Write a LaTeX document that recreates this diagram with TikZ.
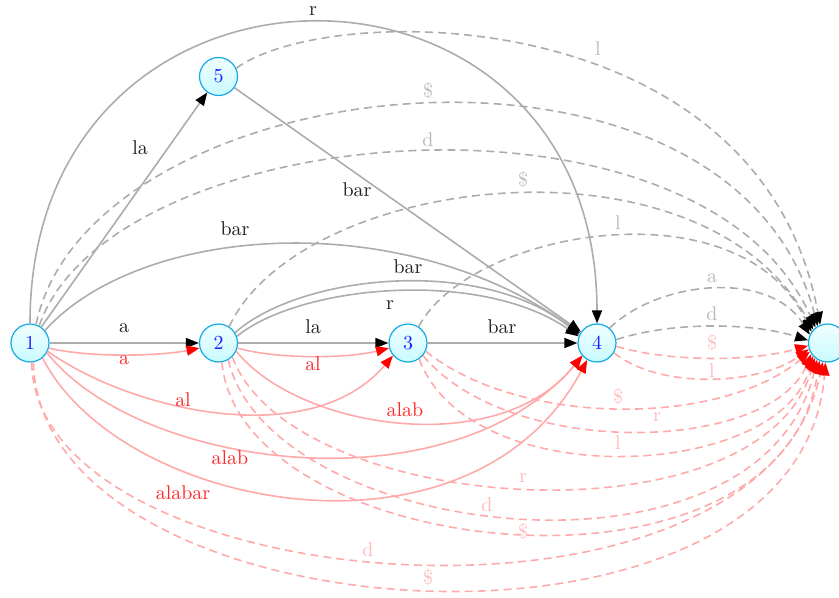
\documentclass[tikz,border=0pt]{standalone}
\usetikzlibrary{arrows.meta}
\newcommand\txtb[1]{\scalebox{2}{#1}}
\definecolor{stborder}{RGB}{20,170,230}
\definecolor{sttop}{RGB}{240,255,255}
\definecolor{stbot}{RGB}{200,250,255}
\definecolor{stlabel}{RGB}{30,30,255}
\definecolor{gline}{RGB}{172,172,172}
\definecolor{rline}{RGB}{255,170,170}
\definecolor{labk}{RGB}{30,30,30}
\definecolor{labg}{RGB}{185,185,185}
\definecolor{labr}{RGB}{255,40,40}
\definecolor{labp}{RGB}{255,185,185}
\tikzset{
  st/.style={circle, draw=stborder, line width=1.2bp, minimum size=38bp, inner sep=0pt,
    top color=sttop, bottom color=stbot, text=stlabel},
  ge/.style={draw=gline, line width=1.6bp, -{Triangle[length=13bp,width=10bp,color=black]}},
  gd/.style={ge, dash pattern=on 8bp off 5bp},
  re/.style={draw=rline, line width=1.6bp, -{Triangle[length=13bp,width=10bp,color=red]}},
  rd/.style={re, dash pattern=on 8bp off 5bp},
  lab/.style={inner sep=0pt},
  lk/.style={lab, text=labk},
  lg/.style={lab, text=labg},
  lr/.style={lab, text=labr},
  lp/.style={lab, text=labp}
}
\begin{document}
\begin{tikzpicture}[x=1bp,y=-1bp]
\useasboundingbox (0,0) rectangle (839,598);
\clip (0,0) rectangle (839,598);
% states
\node[st] (n1) at (30,343) {\txtb{1}};
\node[st] (n2) at (218.5,343) {\txtb{2}};
\node[st] (n3) at (408,343) {\txtb{3}};
\node[st] (n4) at (597,343) {\txtb{4}};
\node[st] (n5) at (218.5,76.5) {\txtb{5}};
\node[st] (n6) at (827.5,343) {};
% gray solid edges
\draw[ge] (n1.90) .. controls (30,-78) and (597,-78) .. (n4.90);
\draw[ge] (n1.40) .. controls (140,225) and (400,205) .. (n4.150);
\draw[ge] (n2.32) .. controls (300,275) and (480,255) .. (n4.155);
\draw[ge] (n2.20) .. controls (300,285) and (480,268) .. (n4.160);
\draw[ge] (n5) -- (n4);
\draw[ge] (n1) -- (n5);
\draw[ge] (n1) -- (n2);
\draw[ge] (n2) -- (n3);
\draw[ge] (n3) -- (n4);
% gray dashed edges
\draw[gd] (n5.25) .. controls (330,0) and (760,0) .. (n6.112);
\draw[gd] (n1.72) .. controls (90,68) and (730,-5) .. (n6.120);
\draw[gd] (n1.62) .. controls (110,120) and (700,68) .. (n6.128);
\draw[gd] (n2.57) .. controls (300,175) and (700,125) .. (n6.137);
\draw[gd] (n3.57) .. controls (470,230) and (740,182) .. (n6.145);
\draw[gd] (n4.50) .. controls (660,280) and (770,270) .. (n6.155);
\draw[gd] (n4.10) .. controls (670,322) and (750,322) .. (n6.172);
% red solid edges
\draw[re] (n1.345) .. controls (90,358) and (160,356) .. (n2.195);
\draw[re] (n2.345) .. controls (280,360) and (350,358) .. (n3.195);
\draw[re] (n1.335) .. controls (130,410) and (310,453) .. (n3.220);
\draw[re] (n2.335) .. controls (300,430) and (500,460) .. (n4.220);
\draw[re] (n1.330) .. controls (140,470) and (450,510) .. (n4.222);
\draw[re] (n1.310) .. controls (120,510) and (470,578) .. (n4.240);
% red dashed edges
\draw[rd] (n4.350) .. controls (670,362) and (750,362) .. (n6.188);
\draw[rd] (n4.330) .. controls (660,390) and (760,385) .. (n6.198);
\draw[rd] (n3.335) .. controls (520,427) and (720,427) .. (n6.206);
\draw[rd] (n3.320) .. controls (510,460) and (770,453) .. (n6.214);
\draw[rd] (n3.305) .. controls (470,495) and (780,480) .. (n6.222);
\draw[rd] (n2.315) .. controls (290,515) and (760,548) .. (n6.230);
\draw[rd] (n2.300) .. controls (270,540) and (760,600) .. (n6.238);
\draw[rd] (n2.280) .. controls (240,560) and (780,620) .. (n6.246);
\draw[rd] (n1.275) .. controls (35,600) and (760,660) .. (n6.256);
\draw[rd] (n1.280) .. controls (40,640) and (800,690) .. (n6.264);
% labels: gray solid
\node[lk] (t1) at (313,11) {\txtb{r}};
\node[lk] (t2) at (140,148) {\txtb{la}};
\node[lk] (t3) at (357,190) {\txtb{bar}};
\node[lk] (t4) at (235,229) {\txtb{bar}};
\node[lk] (t5) at (408,267) {\txtb{bar}};
\node[lk] (t6) at (390,305) {\txtb{r}};
\node[lk] (t7) at (124,328) {\txtb{a}};
\node[lk] (t8) at (313,327) {\txtb{la}};
\node[lk] (t9) at (502,327) {\txtb{bar}};
% labels: gray dashed
\node[lg] (u1) at (598,49) {\txtb{l}};
\node[lg] (u2) at (428,91) {\txtb{\$}};
\node[lg] (u3) at (428,140) {\txtb{d}};
\node[lg] (u4) at (523,180) {\txtb{\$}};
\node[lg] (u5) at (618,223) {\txtb{l}};
\node[lg] (u6) at (712,278) {\txtb{a}};
\node[lg] (u7) at (712,314) {\txtb{d}};
% labels: red solid
\node[lr] (v1) at (124,360) {\txtb{a}};
\node[lr] (v2) at (313,364) {\txtb{al}};
\node[lr] (v3) at (183,400) {\txtb{al}};
\node[lr] (v4) at (405,410) {\txtb{alab}};
\node[lr] (v5) at (230,458) {\txtb{alab}};
\node[lr] (v6) at (183,493) {\txtb{alabar}};
% labels: red dashed
\node[lp] (w1) at (712,343) {\txtb{\$}};
\node[lp] (w2) at (712,371) {\txtb{l}};
\node[lp] (w3) at (618,397) {\txtb{\$}};
\node[lp] (w4) at (657,417) {\txtb{r}};
\node[lp] (w5) at (618,443) {\txtb{l}};
\node[lp] (w6) at (523,478) {\txtb{r}};
\node[lp] (w7) at (487,505) {\txtb{d}};
\node[lp] (w8) at (523,532) {\txtb{\$}};
\node[lp] (w9) at (368,550) {\txtb{d}};
\node[lp] (w10) at (428,578) {\txtb{\$}};
\end{tikzpicture}
\end{document}
